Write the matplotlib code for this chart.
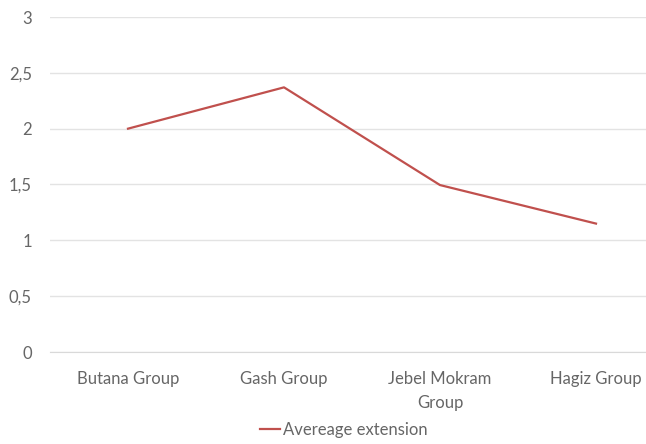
import matplotlib
matplotlib.use("Agg")
import matplotlib.pyplot as plt
from matplotlib.lines import Line2D

categories = ["Butana Group", "Gash Group", "Jebel Mokram\nGroup", "Hagiz Group"]
values = [2.0, 2.37, 1.495, 1.15]
yticks = [0, 0.5, 1, 1.5, 2, 2.5, 3]
ytick_labels = ["0", "0,5", "1", "1,5", "2", "2,5", "3"]
series_name = "Avereage extension"

plt.rcParams['font.family'] = ['Lato', 'DejaVu Sans']
txt = '#666666'
fs = 12
fig = plt.figure(figsize=(6.46, 4.44), dpi=100)
ax = fig.add_axes([50/646, 1-352/444, 624/646, 335/444])
x = list(range(len(categories)))
ax.plot(x, values, color='#C0504D', linewidth=1.6, solid_joinstyle='round')
ax.set_xlim(-0.5, len(categories)-0.5)
ax.set_ylim(0, 3)
ax.set_yticks(yticks)
ax.set_yticklabels(ytick_labels)
ax.set_xticks(x)
ax.set_xticklabels(categories, linespacing=1.55)
ax.grid(axis='y', color='#E3E3E3', linewidth=1.0)
ax.set_axisbelow(True)
for s in ['top', 'right', 'left']:
    ax.spines[s].set_visible(False)
ax.spines['bottom'].set_color('#D9D9D9')
ax.tick_params(axis='both', length=0, colors=txt, labelsize=fs)
ax.tick_params(axis='y', pad=13)
ax.tick_params(axis='x', pad=14)
handle = Line2D([0], [0], color='#C0504D', linewidth=1.6)
fig.legend([handle], [series_name], loc='center', bbox_to_anchor=(344/646, 1-430/444),
           frameon=False, fontsize=fs, labelcolor=txt, handlelength=1.2, handletextpad=0.2)
fig.savefig('out.png', dpi=100)
